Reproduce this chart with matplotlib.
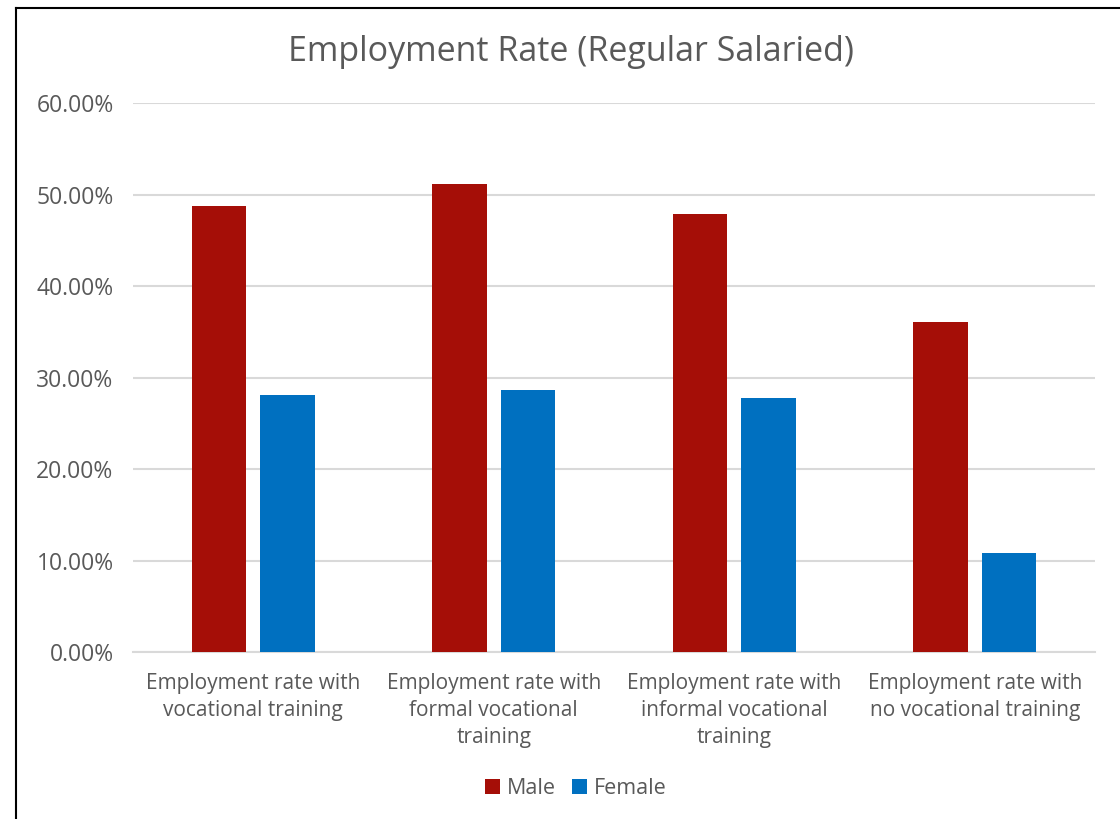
import numpy as np
import matplotlib.pyplot as plt
from matplotlib.lines import Line2D
from matplotlib.ticker import FuncFormatter

plt.rcParams['font.family'] = ['Open Sans', 'DejaVu Sans']

# data
categories = ["Employment rate with\nvocational training",
              "Employment rate with\nformal vocational\ntraining",
              "Employment rate with\ninformal vocational\ntraining",
              "Employment rate with\nno vocational training"]
male = [48.8, 51.1, 47.9, 36.1]
female = [28.1, 28.6, 27.75, 10.85]
yticks = [0, 10, 20, 30, 40, 50, 60]

male_color = "#A50E07"
female_color = "#0070C0"
text_color = "#595959"
grid_color = "#D9D9D9"

fig = plt.figure(figsize=(11.2, 8.19), dpi=100)
ax = fig.add_axes([0.1188, 0.2039, 0.9777 - 0.1188, 0.8742 - 0.2039])

x = np.arange(len(categories))
width = 0.228
offset = 0.1425
ax.bar(x - offset, male, width, color=male_color, label="Male", zorder=3)
ax.bar(x + offset, female, width, color=female_color, label="Female", zorder=3)

ax.set_xlim(-0.5, len(categories) - 0.5)
ax.set_ylim(0, 60)
ax.set_yticks(yticks)
ax.yaxis.set_major_formatter(FuncFormatter(lambda v, p: "%.2f%%" % v))
ax.set_xticks(x)
ax.set_xticklabels(categories, fontsize=15, color=text_color, linespacing=1.38)
ax.tick_params(axis="y", labelsize=16.5, colors=text_color, length=0, pad=14)
ax.tick_params(axis="x", length=0, pad=15)

ax.grid(axis="y", color=grid_color, linewidth=1.5, zorder=0)
for s in ["top", "right", "left"]:
    ax.spines[s].set_visible(False)
ax.spines["bottom"].set_color(grid_color)
ax.spines["bottom"].set_linewidth(1.5)

fig.text(0.51, 0.937, "Employment Rate (Regular Salaried)", ha="center", va="center",
         fontsize=24.5, color=text_color)

leg = fig.legend(loc="center", bbox_to_anchor=(0.514, 0.037), ncol=2, frameon=False,
                 fontsize=15.5, handlelength=0.7, handleheight=0.7,
                 handletextpad=0.3, columnspacing=0.75)
for t in leg.get_texts():
    t.set_color(text_color)

# outer chart border, cropped on the right and bottom
fig.add_artist(Line2D([16 / 1120, 16 / 1120], [0, 1 - 8 / 819], color="black",
                      linewidth=1.5, transform=fig.transFigure))
fig.add_artist(Line2D([16 / 1120, 1], [1 - 8 / 819, 1 - 8 / 819], color="black",
                      linewidth=1.5, transform=fig.transFigure))

fig.savefig("out.png", dpi=100)
